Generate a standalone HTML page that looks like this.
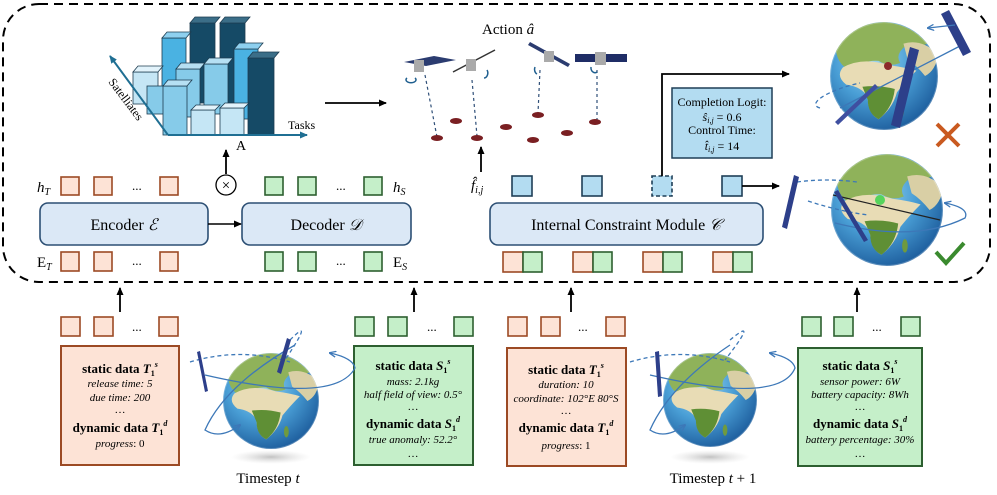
<!DOCTYPE html>
<html><head><meta charset="utf-8"><style>
body{margin:0;background:#fff}
svg{display:block;font-family:"Liberation Serif",serif}
.it{font-style:italic}
</style></head><body>
<svg width="997" height="495" viewBox="0 0 997 495" xmlns="http://www.w3.org/2000/svg" xmlns:xlink="http://www.w3.org/1999/xlink">
<defs>
<marker id="ar" markerWidth="8" markerHeight="8" refX="7" refY="4" orient="auto" markerUnits="userSpaceOnUse"><path d="M0,0.5 L8,4 L0,7.5 z" fill="#000"/></marker>
<marker id="ab" markerWidth="8" markerHeight="8" refX="7" refY="4" orient="auto" markerUnits="userSpaceOnUse"><path d="M0,0.5 L8,4 L0,7.5 z" fill="#1f6f93"/></marker>
<marker id="ab2" markerWidth="7" markerHeight="7" refX="6" refY="3.5" orient="auto" markerUnits="userSpaceOnUse"><path d="M0,0.5 L7,3.5 L0,6.5" fill="none" stroke="#3d78b8" stroke-width="1.3"/></marker>
<radialGradient id="gl" cx="0.4" cy="0.35" r="0.7">
<stop offset="0" stop-color="#9fd6ee"/><stop offset="0.5" stop-color="#4a9fd6"/><stop offset="1" stop-color="#1b5a9a"/></radialGradient>
<radialGradient id="sh" cx="0.5" cy="0.5" r="0.5"><stop offset="0" stop-color="#999" stop-opacity="0.6"/><stop offset="1" stop-color="#ccc" stop-opacity="0"/></radialGradient>
<clipPath id="gc"><circle cx="0" cy="0" r="50"/></clipPath>
<g id="earth">
<circle r="50" fill="url(#gl)"/>
<g clip-path="url(#gc)">
<path d="M-45,-30 Q-30,-48 0,-50 Q25,-48 40,-30 Q30,-25 20,-28 Q10,-20 15,-12 Q5,-8 -5,-14 Q-20,-15 -30,-5 Q-45,-10 -45,-30z" fill="#8fb25a"/>
<path d="M-38,-8 Q-20,-18 5,-10 Q20,-8 30,-5 Q20,5 12,15 Q8,30 -5,40 Q-15,35 -15,20 Q-20,10 -35,8 Q-45,0 -38,-8z" fill="#e8dcb5"/>
<path d="M-20,10 Q-5,8 10,12 Q8,30 -5,40 Q-15,35 -15,22z" fill="#5f8f35"/>
<path d="M18,-30 Q35,-35 50,-20 Q48,-5 38,0 Q30,-10 22,-15z" fill="#d9cfa5"/>
<ellipse cx="16" cy="32" rx="2.5" ry="6" fill="#6f9a3f"/>
</g>
<circle r="50" fill="none" stroke="#fff" stroke-opacity="0.25" stroke-width="2"/>
</g>
</defs>

<!-- dashed frame -->
<rect x="3" y="4" width="987" height="278" rx="36" fill="none" stroke="#000" stroke-width="2" stroke-dasharray="9,6"/>

<!-- bar chart -->
<g stroke="#1d3c50" stroke-width="0.8">
<rect x="190" y="23" width="25" height="80" fill="#154a66"/><path d="M190,23 l5,-6 h25 l-5,6z" fill="#3b6e88"/>
<rect x="220" y="23" width="25" height="80" fill="#154a66"/><path d="M220,23 l5,-6 h25 l-5,6z" fill="#3b6e88"/>
<rect x="162" y="38" width="24" height="72" fill="#4ab2e2"/><path d="M162,38 l5,-6 h24 l-5,6z" fill="#8ed0ef"/>
<rect x="234" y="49" width="24" height="70" fill="#4ab2e2"/><path d="M234,49 l5,-6 h24 l-5,6z" fill="#8ed0ef"/>
<rect x="248" y="58" width="26" height="77" fill="#154a66"/><path d="M248,58 l5,-6 h26 l-5,6z" fill="#3b6e88"/>
<rect x="133" y="72" width="25" height="32" fill="#c5e6f5"/><path d="M133,72 l5,-6 h25 l-5,6z" fill="#e2f3fb"/>
<rect x="176" y="69" width="24" height="48" fill="#86cbe9"/><path d="M176,69 l5,-6 h24 l-5,6z" fill="#b6e0f3"/>
<rect x="204" y="64" width="24" height="50" fill="#86cbe9"/><path d="M204,64 l5,-6 h24 l-5,6z" fill="#b6e0f3"/>
<rect x="147" y="86" width="22" height="28" fill="#86cbe9"/>
<rect x="163" y="86" width="24" height="49" fill="#86cbe9"/><path d="M163,86 l5,-6 h24 l-5,6z" fill="#b6e0f3"/>
<rect x="191" y="110" width="24" height="25" fill="#c5e6f5"/><path d="M191,110 l5,-5 h24 l-5,5z" fill="#e2f3fb"/>
<rect x="220" y="108" width="24" height="27" fill="#c5e6f5"/><path d="M220,108 l5,-5 h24 l-5,5z" fill="#e2f3fb"/>
</g>
<line x1="168" y1="135" x2="307" y2="135" stroke="#1f6f93" stroke-width="2" marker-end="url(#ab)"/>
<line x1="168" y1="135" x2="110" y2="56" stroke="#1f6f93" stroke-width="2" marker-end="url(#ab)"/>
<text x="288" y="129" font-size="12">Tasks</text>
<text x="0" y="0" font-size="12" transform="translate(108,82) rotate(53)">Satelliates</text>
<text x="236" y="150" font-size="14">A</text>
<line x1="226" y1="174" x2="226" y2="150" stroke="#000" stroke-width="1.8" marker-end="url(#ar)"/>
<line x1="325" y1="103" x2="386" y2="103" stroke="#000" stroke-width="1.8" marker-end="url(#ar)"/>

<!-- action satellites -->
<text x="482" y="34" font-size="15">Action <tspan class="it">â</tspan></text>
<g stroke="#2f4f78" stroke-width="1.2" stroke-dasharray="3,3" fill="none">
<line x1="425" y1="75" x2="437" y2="137"/><line x1="472" y1="80" x2="477" y2="136"/>
<line x1="540" y1="70" x2="538" y2="113"/><line x1="597" y1="70" x2="597" y2="120"/>
</g>
<g fill="#7a1f22">
<ellipse cx="437" cy="138" rx="6" ry="3"/><ellipse cx="456" cy="121" rx="6" ry="3"/><ellipse cx="477" cy="138" rx="6" ry="3"/>
<ellipse cx="506" cy="127" rx="6" ry="3"/><ellipse cx="533" cy="140" rx="6" ry="3"/><ellipse cx="538" cy="115" rx="6" ry="3"/>
<ellipse cx="567" cy="133" rx="6" ry="3"/><ellipse cx="595" cy="122" rx="6" ry="3"/>
</g>
<g>
<path d="M404,62 l30,-6 l22,4 l-30,6z" fill="#2b3c70"/><rect x="414" y="60" width="10" height="12" fill="#aaa"/>
<line x1="453" y1="72" x2="495" y2="50" stroke="#333" stroke-width="1.5"/><rect x="466" y="59" width="10" height="12" fill="#aaa"/>
<path d="M530,42 l40,22 l-2,3 l-40,-22z" fill="#2b3c70"/><rect x="544" y="51" width="10" height="11" fill="#aaa"/>
<rect x="575" y="54" width="25" height="8" fill="#1f2d66"/><rect x="605" y="54" width="22" height="8" fill="#1f2d66"/><rect x="595" y="52" width="11" height="13" fill="#aaa"/>
</g>
<g fill="none" stroke="#1f5f8f" stroke-width="1.5"><path d="M407,78 a5,3 0 1 0 8,0"/><path d="M487,70 a4,5 0 0 1 -3,8"/><path d="M535,67 a4,5 0 0 0 2,7"/><path d="M591,67 a4,5 0 0 0 6,5"/></g>
<line x1="481" y1="172" x2="481" y2="147" stroke="#000" stroke-width="1.8" marker-end="url(#ar)"/>

<!-- encoder / decoder rows -->
<g fill="#fde3d6" stroke="#9c4a24" stroke-width="1.6">
<rect x="61" y="177" width="18" height="18"/><rect x="94" y="177" width="18" height="18"/><rect x="160" y="177" width="18" height="18"/>
<rect x="61" y="252" width="18" height="19"/><rect x="94" y="252" width="18" height="19"/><rect x="160" y="252" width="18" height="19"/>
</g>
<g fill="#c5efc9" stroke="#2d5f30" stroke-width="1.6">
<rect x="265" y="177" width="18" height="18"/><rect x="298" y="177" width="18" height="18"/><rect x="364" y="177" width="18" height="18"/>
<rect x="265" y="252" width="18" height="19"/><rect x="298" y="252" width="18" height="19"/><rect x="364" y="252" width="18" height="19"/>
</g>
<g font-size="13"><text x="132" y="190">...</text><text x="132" y="265">...</text><text x="336" y="190">...</text><text x="336" y="265">...</text></g>
<text x="37" y="192" font-size="15" class="it">h<tspan font-size="10" dy="3">T</tspan></text>
<text x="37" y="267" font-size="15">E<tspan font-size="10" dy="3" class="it">T</tspan></text>
<text x="393" y="192" font-size="15" class="it">h<tspan font-size="10" dy="3">S</tspan></text>
<text x="393" y="267" font-size="15">E<tspan font-size="10" dy="3" class="it">S</tspan></text>
<circle cx="226" cy="185" r="10" fill="#fff" stroke="#000" stroke-width="1.3"/>
<text x="226" y="190" font-size="15" text-anchor="middle">×</text>
<rect x="40" y="203" width="168" height="42" rx="8" fill="#dbe8f6" stroke="#2c4f74" stroke-width="1.6"/>
<rect x="242" y="203" width="169" height="42" rx="8" fill="#dbe8f6" stroke="#2c4f74" stroke-width="1.6"/>
<text x="124" y="230" font-size="16" text-anchor="middle">Encoder <tspan class="it">ℰ</tspan></text>
<text x="326" y="230" font-size="16" text-anchor="middle">Decoder <tspan class="it">𝒟</tspan></text>
<line x1="208" y1="224" x2="241" y2="224" stroke="#000" stroke-width="1.6" marker-end="url(#ar)"/>
<text x="471" y="190" font-size="15" class="it">f̂<tspan font-size="10" dy="3">i,j</tspan></text>

<!-- ICM -->
<rect x="490" y="203" width="273" height="42" rx="8" fill="#dbe8f6" stroke="#2c4f74" stroke-width="1.6"/>
<text x="626" y="230" font-size="16" text-anchor="middle">Internal Constraint Module <tspan class="it">𝒞</tspan></text>
<g fill="#b3dcf1" stroke="#1f3f57" stroke-width="1.6">
<rect x="512" y="176" width="20" height="20"/><rect x="582" y="176" width="20" height="20"/><rect x="722" y="176" width="20" height="20"/>
<rect x="652" y="176" width="20" height="20" stroke-dasharray="4,2.5"/>
</g>
<g stroke-width="1.6">
<rect x="503" y="252" width="20" height="20" fill="#fde3d6" stroke="#9c4a24"/><rect x="523" y="252" width="19" height="20" fill="#c5efc9" stroke="#2d5f30"/>
<rect x="573" y="252" width="20" height="20" fill="#fde3d6" stroke="#9c4a24"/><rect x="593" y="252" width="19" height="20" fill="#c5efc9" stroke="#2d5f30"/>
<rect x="643" y="252" width="20" height="20" fill="#fde3d6" stroke="#9c4a24"/><rect x="663" y="252" width="19" height="20" fill="#c5efc9" stroke="#2d5f30"/>
<rect x="713" y="252" width="20" height="20" fill="#fde3d6" stroke="#9c4a24"/><rect x="733" y="252" width="19" height="20" fill="#c5efc9" stroke="#2d5f30"/>
</g>
<polyline points="662,176 662,74 789,74" fill="none" stroke="#000" stroke-width="1.8" marker-end="url(#ar)"/>
<line x1="742" y1="186" x2="779" y2="186" stroke="#000" stroke-width="1.8" marker-end="url(#ar)"/>
<rect x="672" y="88" width="100" height="70" fill="#b3dcf1" stroke="#1f3f57" stroke-width="1.5"/>
<g font-size="12" text-anchor="middle"><text x="722" y="106">Completion Logit:</text><text x="722" y="121"><tspan class="it">ŝ</tspan><tspan font-size="8" class="it" dy="2">i,j</tspan><tspan dy="-2"> = 0.6</tspan></text><text x="722" y="134">Control Time:</text><text x="722" y="150"><tspan class="it">t̂</tspan><tspan font-size="8" class="it" dy="2">i,j</tspan><tspan dy="-2"> = 14</tspan></text></g>

<!-- right globes -->
<use xlink:href="#earth" transform="translate(884,76) scale(1.08)"/>
<path d="M820,108 a40,10 -15 0 1 40,-25" fill="none" stroke="#3d78b8" stroke-dasharray="4,3" stroke-width="1.3"/>
<line x1="840" y1="108" x2="960" y2="46" stroke="#3d78b8" stroke-width="1.3"/>
<path d="M910,47 l9,3 l-19,78 l-9,-3z" fill="#2d3f8a"/><path d="M835,122 l40,-38 l3,3 l-40,38z" fill="#3f4fa0"/>
<path d="M941,14 l8,-4 l22,42 l-8,4z" fill="#2d3f8a"/>
<circle cx="888" cy="66" r="4" fill="#8b2a2a"/>
<line x1="955" y1="25" x2="928" y2="28" stroke="#3d78b8" stroke-width="1.3" marker-end="url(#ab2)"/>
<path d="M937,124 l22,22 M959,124 l-22,22" stroke="#c95a20" stroke-width="4"/>
<use xlink:href="#earth" transform="translate(887,210) scale(1.12)"/>
<path d="M797,182 q30,-4 60,0" fill="none" stroke="#3d78b8" stroke-dasharray="4,3" stroke-width="1.3"/>
<path d="M808,201 q30,10 60,14" fill="none" stroke="#3d78b8" stroke-dasharray="4,3" stroke-width="1.3"/>
<path d="M835,223 q80,20 130,-5 q5,-10 -20,-15" fill="none" stroke="#3d78b8" stroke-width="1.3" marker-end="url(#ab2)"/>
<line x1="833" y1="195" x2="940" y2="220" stroke="#222" stroke-width="1.2"/>
<path d="M794,175 l5,2 l-12,52 l-5,-2z" fill="#2d3f8a"/><path d="M834,192 l4,-2 l30,50 l-4,2z" fill="#2d3f8a"/>
<circle cx="880" cy="200" r="5" fill="#56d45c"/>
<path d="M936,252 l10,11 l18,-20" fill="none" stroke="#3a8a2e" stroke-width="4"/>

<!-- bottom arrows -->
<g stroke="#000" stroke-width="1.8" marker-end="url(#ar)">
<line x1="120" y1="312" x2="120" y2="288"/><line x1="414" y1="312" x2="414" y2="288"/>
<line x1="571" y1="312" x2="571" y2="288"/><line x1="857" y1="312" x2="857" y2="288"/>
</g>

<!-- bottom squares -->
<g fill="#fde3d6" stroke="#9c4a24" stroke-width="1.6">
<rect x="61" y="317" width="19" height="19"/><rect x="94" y="317" width="19" height="19"/><rect x="159" y="317" width="19" height="19"/>
<rect x="508" y="317" width="19" height="19"/><rect x="541" y="317" width="19" height="19"/><rect x="606" y="317" width="19" height="19"/>
</g>
<g fill="#c5efc9" stroke="#2d5f30" stroke-width="1.6">
<rect x="355" y="317" width="19" height="19"/><rect x="388" y="317" width="19" height="19"/><rect x="454" y="317" width="19" height="19"/>
<rect x="802" y="317" width="19" height="19"/><rect x="834" y="317" width="19" height="19"/><rect x="901" y="317" width="19" height="19"/>
</g>
<g font-size="13"><text x="132" y="331">...</text><text x="427" y="331">...</text><text x="578" y="331">...</text><text x="872" y="331">...</text></g>

<!-- data boxes -->
<rect x="61" y="346" width="118" height="119" fill="#fde3d6" stroke="#9c4a24" stroke-width="2"/>
<rect x="354" y="346" width="119" height="119" fill="#c5efc9" stroke="#2d5f30" stroke-width="2"/>
<rect x="507" y="348" width="119" height="118" fill="#fde3d6" stroke="#9c4a24" stroke-width="2"/>
<rect x="798" y="348" width="124" height="118" fill="#c5efc9" stroke="#2d5f30" stroke-width="2"/>
<g text-anchor="middle" font-size="11">
<text x="120" y="373" font-size="13" font-weight="bold">static data <tspan class="it">T</tspan><tspan font-size="8" dy="3">1</tspan><tspan font-size="8" dy="-9" class="it">s</tspan></text>
<text x="120" y="387" class="it">release time: 5</text><text x="120" y="401" class="it">due time: 200</text><text x="120" y="413">…</text>
<text x="120" y="432" font-size="13" font-weight="bold">dynamic data <tspan class="it">T</tspan><tspan font-size="8" dy="3">1</tspan><tspan font-size="8" dy="-9" class="it">d</tspan></text>
<text x="120" y="447"><tspan class="it">progress</tspan>: 0</text>

<text x="413" y="370" font-size="13" font-weight="bold">static data <tspan class="it">S</tspan><tspan font-size="8" dy="3">1</tspan><tspan font-size="8" dy="-9" class="it">s</tspan></text>
<text x="413" y="385" class="it">mass: 2.1kg</text><text x="413" y="398" class="it">half field of view: 0.5°</text><text x="413" y="410">…</text>
<text x="413" y="428" font-size="13" font-weight="bold">dynamic data <tspan class="it">S</tspan><tspan font-size="8" dy="3">1</tspan><tspan font-size="8" dy="-9" class="it">d</tspan></text>
<text x="413" y="443" class="it">true anomaly: 52.2°</text><text x="413" y="457">…</text>

<text x="566" y="374" font-size="13" font-weight="bold">static data <tspan class="it">T</tspan><tspan font-size="8" dy="3">1</tspan><tspan font-size="8" dy="-9" class="it">s</tspan></text>
<text x="566" y="388" class="it">duration: 10</text><text x="566" y="402" class="it">coordinate: 102°E 80°S</text><text x="566" y="414">…</text>
<text x="566" y="432" font-size="13" font-weight="bold">dynamic data <tspan class="it">T</tspan><tspan font-size="8" dy="3">1</tspan><tspan font-size="8" dy="-9" class="it">d</tspan></text>
<text x="566" y="449"><tspan class="it">progress</tspan>: 1</text>

<text x="860" y="370" font-size="13" font-weight="bold">static data <tspan class="it">S</tspan><tspan font-size="8" dy="3">1</tspan><tspan font-size="8" dy="-9" class="it">s</tspan></text>
<text x="860" y="385" class="it">sensor power: 6W</text><text x="860" y="398" class="it">battery capacity: 8Wh</text><text x="860" y="410">…</text>
<text x="860" y="428" font-size="13" font-weight="bold">dynamic data <tspan class="it">S</tspan><tspan font-size="8" dy="3">1</tspan><tspan font-size="8" dy="-9" class="it">d</tspan></text>
<text x="860" y="443" class="it">battery percentage: 30%</text><text x="860" y="457">…</text>
</g>

<!-- bottom globes -->
<ellipse cx="271" cy="457" rx="40" ry="7" fill="url(#sh)"/>
<use xlink:href="#earth" transform="translate(271,401) scale(0.96)"/>
<path d="M190,362 q50,-15 100,0 M290,340 q25,-25 -5,20" fill="none" stroke="#3d78b8" stroke-dasharray="4,3" stroke-width="1.3"/>
<path d="M205,375 q130,30 150,-7 q-2,-10 -25,-15" fill="none" stroke="#3d78b8" stroke-width="1.3" marker-end="url(#ab2)"/>
<path d="M295,345 q-70,40 -90,85 q15,10 35,-5" fill="none" stroke="#3d78b8" stroke-width="1.3" marker-end="url(#ab2)"/>
<path d="M197,352 l3,-1 l8,40 l-3,1z" fill="#2d3f8a"/><path d="M287,338 l4,2 l-10,34 l-4,-2z" fill="#2d3f8a"/>
<text x="268" y="483" font-size="15" text-anchor="middle">Timestep <tspan class="it">t</tspan></text>

<ellipse cx="710" cy="457" rx="40" ry="7" fill="url(#sh)"/>
<use xlink:href="#earth" transform="translate(710,400) scale(0.94)"/>
<path d="M630,362 q50,-15 100,0 M730,340 q30,-25 -5,20" fill="none" stroke="#3d78b8" stroke-dasharray="4,3" stroke-width="1.3"/>
<path d="M650,375 q130,30 145,-7 q-2,-10 -25,-15" fill="none" stroke="#3d78b8" stroke-width="1.3" marker-end="url(#ab2)"/>
<path d="M730,345 q-60,40 -80,85 q15,10 35,-5" fill="none" stroke="#3d78b8" stroke-width="1.3" marker-end="url(#ab2)"/>
<path d="M655,352 l4,-1 l3,45 l-4,1z" fill="#2d3f8a"/>
<text x="713" y="483" font-size="15" text-anchor="middle">Timestep <tspan class="it">t</tspan> + 1</text>
</svg>
</body></html>
